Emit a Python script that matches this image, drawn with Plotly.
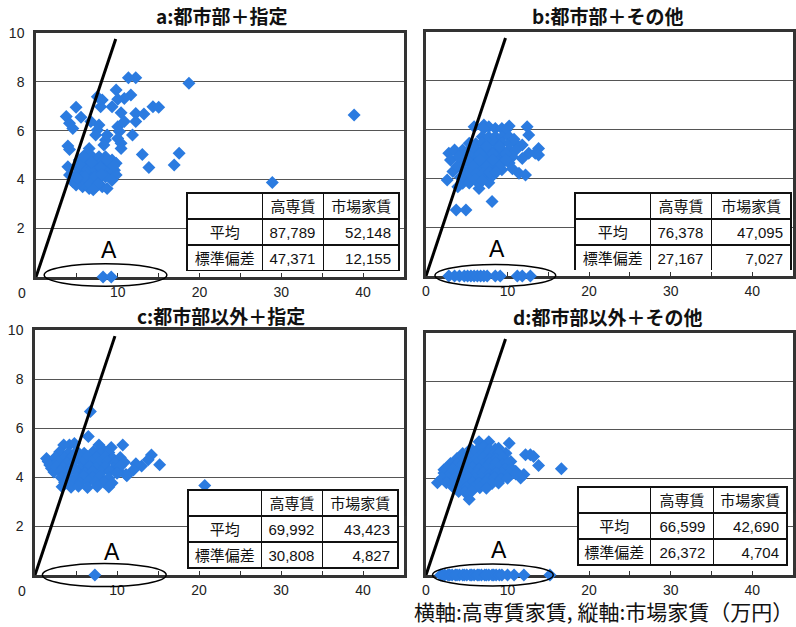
import plotly.graph_objects as go

# ---------------- data ----------------
X_RANGE = [0, 45]
Y_RANGE = [0, 10]

panel_titles = ["a:都市部＋指定", "b:都市部＋その他", "c:都市部以外＋指定", "d:都市部以外＋その他"]
table_header = ["", "高専賃", "市場家賃"]
row_labels = ["平均", "標準偏差"]
kousen_stats = [["87,789", "47,371"], ["76,378", "27,167"], ["69,992", "30,808"], ["66,599", "26,372"]]
market_stats = [["52,148", "12,155"], ["47,095", "7,027"], ["43,423", "4,827"], ["42,690", "4,704"]]
x_ticks = [0, 5, 10, 15, 20, 25, 30, 35, 40, 45]
y_ticks = [2, 4, 6, 8, 10]
footer_text = "横軸:高専賃家賃, 縦軸:市場家賃（万円）"

a_points = [
    (11.3, 8.17), (12.2, 8.17), (18.7, 7.94), (38.9, 6.64), (28.9, 3.87),
    (9.8, 7.66), (11.6, 7.46), (10.8, 7.32), (10.0, 7.28), (7.5, 7.39), (8.1, 7.25), (7.9, 6.98),
    (4.9, 6.96), (9.3, 6.98), (14.3, 6.98), (15.0, 6.96), (3.7, 6.58), (5.5, 6.55), (10.4, 6.73),
    (12.2, 6.70), (13.2, 6.68), (4.1, 6.30), (4.5, 6.09), (10.8, 6.37), (12.2, 6.37), (6.7, 6.37),
    (7.7, 6.23), (7.5, 6.02), (7.3, 5.82), (10.0, 6.16), (10.2, 5.96), (11.8, 5.82), (8.7, 5.82),
    (8.5, 5.61), (10.0, 5.68), (10.4, 5.48), (10.4, 5.27), (3.9, 5.37), (4.1, 5.23), (8.3, 5.41),
    (6.5, 5.27), (6.3, 5.07), (13.0, 5.02), (17.5, 5.07), (16.9, 4.59), (13.8, 4.49), (3.9, 4.52),
    (4.1, 4.18), (4.5, 3.90),
    (5.3, 4.79), (6.1, 4.86), (6.9, 4.93), (7.7, 4.93), (8.5, 4.93), (9.3, 4.79), (9.8, 4.66),
    (4.9, 4.52), (5.7, 4.52), (6.5, 4.59), (7.3, 4.73), (8.1, 4.73), (8.9, 4.59), (9.6, 4.38),
    (5.1, 4.25), (5.9, 4.18), (6.7, 4.32), (7.5, 4.38), (8.3, 4.38), (9.1, 4.18), (9.8, 4.18),
    (5.3, 3.97), (6.1, 3.91), (6.9, 3.97), (7.7, 4.04), (8.5, 4.11), (9.3, 3.97), (5.7, 3.70),
    (6.5, 3.63), (7.3, 3.70), (8.1, 3.70), (8.7, 3.63), (4.9, 3.77), (5.5, 4.60), (6.3, 4.40),
    (7.0, 4.50), (7.9, 4.50), (8.7, 4.80), (6.0, 4.10), (7.2, 4.10), (8.0, 4.20), (6.6, 3.80),
    (7.6, 3.80), (5.0, 4.05), (9.5, 4.55), (5.8, 4.95), (6.8, 4.70), (7.0, 3.58),
]
a_zero_x = [8.2, 9.2]

b_points = [
    (5.9, 6.12), (7.1, 6.19), (7.7, 6.12), (8.5, 6.05), (9.3, 6.05), (10.2, 6.15), (9.8, 5.98),
    (12.4, 6.12), (12.6, 5.78), (7.1, 6.05),
    (2.8, 5.03), (3.0, 4.75), (3.3, 4.28), (2.6, 3.93), (3.9, 3.66), (3.5, 5.16), (4.5, 5.16),
    (3.7, 2.70), (4.9, 2.70), (8.1, 3.05), (6.5, 3.59),
    (13.8, 5.23), (13.4, 5.03), (12.6, 5.03), (11.8, 4.82), (11.4, 4.21), (12.2, 4.14),
    (13.8, 4.96), (11.8, 5.37), (11.0, 5.44),
    (6.9, 5.71), (7.7, 5.70), (8.5, 5.72), (9.3, 5.69), (10.2, 5.71),
    (5.3, 5.44), (6.1, 5.42), (6.9, 5.45), (7.7, 5.43), (8.5, 5.44), (9.3, 5.46), (10.2, 5.43),
    (5.3, 5.16), (6.1, 5.18), (6.9, 5.15), (7.7, 5.17), (8.5, 5.16), (9.3, 5.14), (10.2, 5.17), (11.0, 5.15),
    (4.9, 4.89), (5.7, 4.90), (6.5, 4.88), (7.3, 4.91), (8.1, 4.89), (8.9, 4.87), (9.7, 4.90), (10.6, 4.89),
    (4.5, 4.62), (5.3, 4.63), (6.1, 4.61), (6.9, 4.62), (7.7, 4.64), (8.5, 4.61), (9.3, 4.62), (10.2, 4.63),
    (4.5, 4.35), (5.3, 4.34), (6.1, 4.36), (6.9, 4.35), (7.7, 4.33), (8.5, 4.36), (9.3, 4.35),
    (4.9, 4.07), (5.7, 4.08), (6.5, 4.06), (7.3, 4.07), (8.1, 4.09),
    (4.5, 3.80), (5.3, 3.81), (6.5, 3.79), (7.7, 3.82),
    (5.8, 5.30), (6.6, 5.00), (7.4, 5.30), (8.2, 5.00), (9.0, 5.30), (9.8, 5.00), (5.0, 4.75),
    (5.8, 4.50), (6.6, 4.75), (7.4, 4.50), (8.2, 4.75), (9.0, 4.50), (9.8, 4.75), (5.4, 4.20),
    (6.2, 4.20), (7.0, 4.20), (7.8, 4.25), (8.6, 4.25), (6.0, 3.95), (6.9, 3.90), (3.8, 4.50),
    (4.0, 4.90), (4.2, 4.05), (10.6, 4.40), (10.8, 5.60),
]
b_zero_x = [2.8, 3.5, 4.1, 4.7, 5.1, 5.5, 5.9, 6.3, 6.7, 7.1, 7.5, 8.5, 9.1, 11.2, 11.8, 12.8]

c_points = [
    (6.75, 6.67), (6.5, 5.65), (3.5, 5.31), (4.2, 5.31), (4.8, 5.37), (7.8, 5.31), (9.3, 5.20),
    (10.7, 5.31), (8.1, 5.17),
    (14.2, 4.90), (13.8, 4.70), (15.2, 4.50), (13.0, 4.45), (12.3, 4.54), (11.2, 4.05),
    (10.3, 4.22), (12.0, 4.29), (11.1, 4.10), (20.7, 3.65),
    (1.4, 4.76), (1.6, 4.63), (2.0, 4.36), (1.8, 4.49), (2.3, 4.20),
    (3.0, 5.02), (4.1, 4.98), (5.1, 5.05), (6.0, 4.97), (7.1, 5.03), (8.0, 4.96), (9.0, 5.00),
    (2.5, 4.81), (3.6, 4.78), (4.5, 4.83), (5.6, 4.77), (6.4, 4.84), (7.5, 4.79), (8.6, 4.82),
    (9.5, 4.76), (10.4, 4.80),
    (2.8, 4.62), (3.9, 4.58), (4.8, 4.64), (5.8, 4.57), (6.9, 4.61), (7.8, 4.59), (8.8, 4.63),
    (9.8, 4.57), (10.9, 4.60),
    (2.6, 4.42), (3.4, 4.38), (4.5, 4.41), (5.5, 4.36), (6.6, 4.43), (7.4, 4.37), (8.5, 4.40),
    (9.6, 4.35), (10.4, 4.44),
    (3.1, 4.22), (4.0, 4.18), (5.0, 4.23), (6.1, 4.17), (7.0, 4.21), (8.1, 4.19), (9.1, 4.24), (10.0, 4.15),
    (3.2, 3.98), (4.1, 4.02), (5.1, 3.97), (5.9, 4.03), (7.0, 3.99), (7.9, 4.01), (9.0, 3.96),
    (3.6, 3.79), (4.6, 3.81), (5.5, 3.77), (6.5, 3.82), (7.4, 3.78), (8.4, 3.80), (9.4, 3.76),
    (3.3, 3.60), (4.4, 3.58), (5.3, 3.62), (6.4, 3.57), (7.6, 3.61), (9.0, 3.59),
]
c_zero_x = [7.3]

d_points = [
    (16.6, 4.39), (13.8, 4.52), (12.2, 4.97), (12.8, 4.97), (13.2, 4.90), (10.2, 5.44), (6.5, 5.51),
    (7.7, 5.51), (7.1, 5.31), (5.3, 3.13), (1.4, 3.81), (2.2, 4.35), (12.0, 4.15), (11.6, 4.01),
    (11.0, 4.29), (8.9, 5.24), (9.8, 5.03), (10.4, 4.69),
    (5.5, 5.22), (6.3, 5.18), (7.0, 5.24), (7.8, 5.19), (8.5, 5.21),
    (4.5, 5.02), (5.3, 4.98), (6.0, 5.03), (6.8, 4.97), (7.5, 5.01), (8.3, 4.99), (9.0, 5.04),
    (3.8, 4.81), (4.6, 4.78), (5.4, 4.83), (6.2, 4.79), (7.0, 4.82), (7.8, 4.77), (8.6, 4.80), (9.4, 4.84),
    (3.0, 4.61), (3.8, 4.58), (4.6, 4.63), (5.4, 4.59), (6.2, 4.62), (7.0, 4.57), (7.8, 4.60),
    (8.6, 4.64), (9.4, 4.58), (10.0, 4.61),
    (2.5, 4.41), (3.3, 4.38), (4.1, 4.42), (4.9, 4.37), (5.7, 4.43), (6.5, 4.39), (7.3, 4.41),
    (8.1, 4.36), (8.9, 4.42), (9.7, 4.38), (10.5, 4.40),
    (2.2, 4.21), (3.0, 4.18), (3.8, 4.22), (4.6, 4.17), (5.4, 4.23), (6.2, 4.19), (7.0, 4.21),
    (7.8, 4.16), (8.6, 4.22), (9.4, 4.18), (10.2, 4.20), (11.0, 4.17),
    (2.0, 4.01), (2.8, 3.98), (3.6, 4.02), (4.4, 3.97), (5.2, 4.03), (6.0, 3.99), (6.8, 4.01),
    (7.6, 3.96), (8.4, 4.02), (9.2, 3.98), (10.0, 4.00),
    (2.5, 3.81), (3.3, 3.78), (4.1, 3.82), (4.9, 3.77), (5.7, 3.83), (6.5, 3.79), (7.3, 3.81),
    (8.1, 3.78), (8.9, 3.80),
    (3.4, 3.61), (4.2, 3.58), (5.0, 3.62), (5.8, 3.59), (6.6, 3.61), (7.4, 3.58),
    (4.0, 3.45), (4.8, 3.42), (5.6, 3.46),
]
d_zero_x = [1.8, 2.0, 2.3, 2.7, 2.9, 3.2, 3.6, 3.8, 4.1, 4.5, 4.7, 5.0, 5.4, 5.6, 5.9, 6.3,
            6.5, 6.8, 7.2, 7.4, 7.7, 8.1, 8.3, 8.6, 9.0, 9.3, 10.0, 10.8, 12.0, 15.2]

points_list = [a_points, b_points, c_points, d_points]
zero_list = [a_zero_x, b_zero_x, c_zero_x, d_zero_x]

# ---------------- layout geometry (pixels) ----------------
W, H = 796, 627
boxes = [(36, 404, 33, 277), (426, 793, 32, 276), (35, 404, 330, 575), (426, 793, 333, 575)]
table_boxes = [(187, 400, 193, 271), (575, 792, 193, 270), (188, 399, 490, 569), (578, 788, 487, 568)]
table_cols = [[76, 61, 76], [76, 61, 80], [74, 61, 76], [73, 63, 74]]
title_pos = [(221, 15), (607, 15), (221, 315), (607, 316)]
ellipses = [(1.0, 16.0, 0.08, 0.46), (1.1, 15.9, 0.02, 0.45), (0.9, 16.0, 0.0, 0.47), (0.8, 15.6, 0.0, 0.45)]
a_labels = [(8.9, 1.1), (8.7, 1.1), (9.4, 0.95), (9.0, 1.02)]
diag_end = 9.75

BLUE = "#2B7BE0"
FRAME = "#333333"
GRID = "#555555"
CJK = "Noto Sans CJK JP"
LAT = "Liberation Sans"


def fx(p):
    return p / W


def fy(p):
    return 1 - p / H


fig = go.Figure()
layout = dict(
    width=W, height=H, margin=dict(l=0, r=0, t=0, b=0),
    paper_bgcolor="white", plot_bgcolor="white", showlegend=False,
    shapes=[], annotations=[],
)

for i in range(4):
    sfx = "" if i == 0 else str(i + 1)
    xa, ya = "x" + sfx, "y" + sfx
    l, r, t, b = boxes[i]
    left_col = i in (0, 2)

    pts = points_list[i]
    fig.add_trace(go.Scatter(
        x=[p[0] for p in pts] + zero_list[i],
        y=[p[1] for p in pts] + [0] * len(zero_list[i]),
        mode="markers", xaxis=xa, yaxis=ya, cliponaxis=False,
        marker=dict(symbol="diamond", size=10, color=BLUE, line=dict(width=0)),
        hoverinfo="skip",
    ))

    tick_text = []
    for v in x_ticks:
        if v % 10 == 0 and v <= 40 and not (v == 0 and left_col):
            tick_text.append(str(v))
        else:
            tick_text.append("")

    layout["xaxis" + sfx] = dict(
        domain=[fx(l), fx(r)], range=X_RANGE, anchor=ya,
        showline=True, mirror=True, linecolor=FRAME, linewidth=2.5,
        showgrid=False, zeroline=False,
        tickmode="array", tickvals=x_ticks, ticktext=tick_text,
        ticks="inside", ticklen=4, tickcolor=FRAME, tickwidth=1,
        tickfont=dict(family=LAT, size=14, color="#222"),
        ticklabelstandoff=0, automargin=False, layer="below traces",
        fixedrange=True,
    )
    layout["yaxis" + sfx] = dict(
        domain=[fy(b), fy(t)], range=Y_RANGE, anchor=xa,
        showline=True, mirror=True, linecolor=FRAME, linewidth=2.5,
        showgrid=True, gridcolor=GRID, gridwidth=1, zeroline=False,
        tickmode="array", tickvals=y_ticks,
        ticktext=[str(v) for v in y_ticks] if left_col else [""] * len(y_ticks),
        ticks="", tickfont=dict(family=LAT, size=14, color="#222"),
        ticklabelstandoff=6, automargin=False, layer="below traces",
        fixedrange=True,
    )

    layout["shapes"].append(dict(
        type="line", xref=xa, yref=ya, x0=0, y0=0, x1=diag_end, y1=diag_end,
        line=dict(color="black", width=3), layer="above",
    ))
    ex0, ex1, ec, eh = ellipses[i]
    xs = X_RANGE[1] - X_RANGE[0]
    ys = Y_RANGE[1] - Y_RANGE[0]
    layout["shapes"].append(dict(
        type="circle", xref=xa + " domain", yref=ya + " domain",
        x0=ex0 / xs, x1=ex1 / xs, y0=(ec - eh) / ys, y1=(ec + eh) / ys,
        line=dict(color="black", width=1.5), layer="above",
    ))
    lx, ly = a_labels[i]
    layout["annotations"].append(dict(
        x=lx, y=ly, xref=xa, yref=ya, text="A", showarrow=False,
        font=dict(family=LAT, size=23, color="black"),
    ))
    tx, ty = title_pos[i]
    layout["annotations"].append(dict(
        x=fx(tx), y=fy(ty), xref="paper", yref="paper", text="<b>" + panel_titles[i] + "</b>",
        showarrow=False, xanchor="center", yanchor="middle",
        font=dict(family=CJK, size=19, color="#111"),
    ))
    if left_col:
        layout["annotations"].append(dict(
            x=fx(22), y=fy(b + 16), xref="paper", yref="paper", text="0",
            showarrow=False, xanchor="center", yanchor="middle",
            font=dict(family=LAT, size=14, color="#222"),
        ))

    tl, tr, tt, tb = table_boxes[i]
    fig.add_trace(go.Table(
        domain=dict(x=[fx(tl), fx(tr)], y=[fy(tb), fy(tt)]),
        columnwidth=table_cols[i],
        header=dict(
            values=table_header, height=26, align="center",
            fill=dict(color="white"), line=dict(color="#111", width=1.5),
            font=dict(family=CJK, size=15, color="#111"),
        ),
        cells=dict(
            values=[row_labels, kousen_stats[i], market_stats[i]], height=26,
            align=["center", "right", "right"],
            fill=dict(color="white"), line=dict(color="#111", width=1.5),
            font=dict(family=[CJK, LAT, LAT], size=15, color="#111"),
        ),
    ))

layout["annotations"].append(dict(
    x=fx(795), y=fy(611), xref="paper", yref="paper", text=footer_text,
    showarrow=False, xanchor="right", yanchor="middle",
    font=dict(family=CJK, size=21, color="#111"),
))

fig.update_layout(**layout)
fig.write_html("out.html")
